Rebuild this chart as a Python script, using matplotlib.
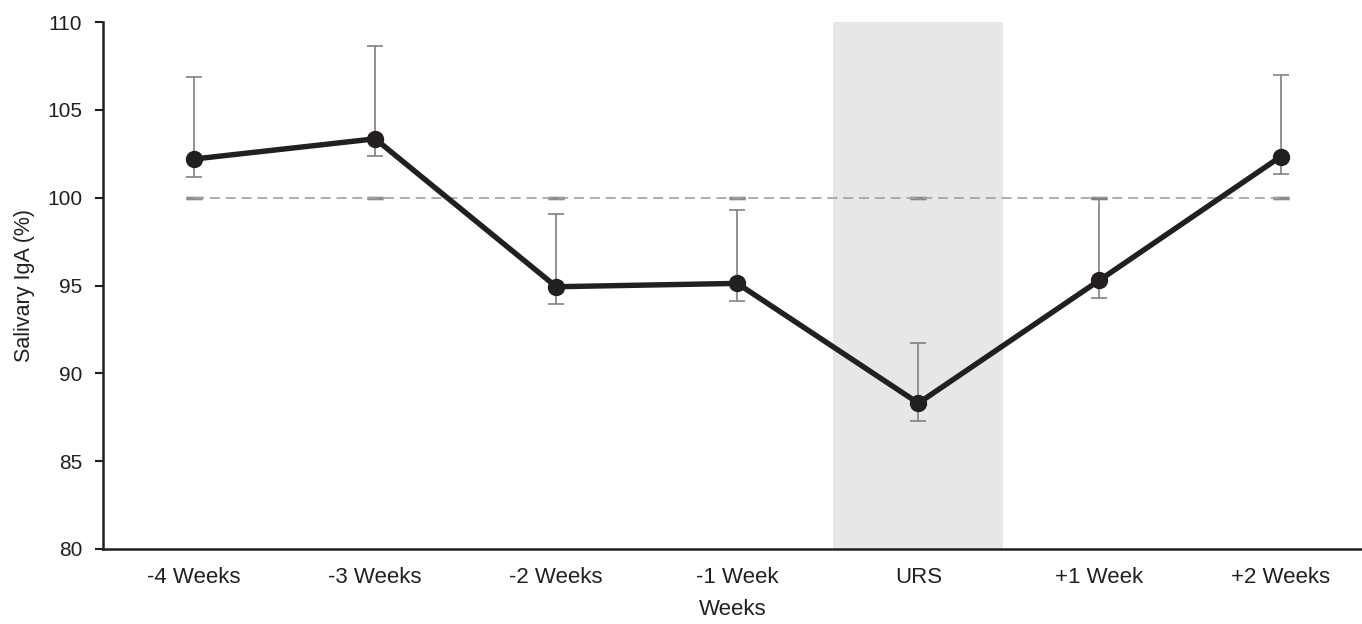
import numpy as np
import matplotlib.pyplot as plt

plt.rcParams['font.family'] = ['Liberation Sans', 'DejaVu Sans']

# Salivary IgA relative to baseline, per week around the URS episode
weeks = ['-4 Weeks', '-3 Weeks', '-2 Weeks', '-1 Week', 'URS', '+1 Week', '+2 Weeks']
siga = [102.2, 103.35, 94.93, 95.12, 88.3, 95.3, 102.33]
err_up = [4.66, 5.26, 4.14, 4.18, 3.4, 4.6, 4.67]
err_low = [1.0, 1.0, 1.0, 1.0, 1.0, 1.0, 1.0]
baseline = [100, 100, 100, 100, 100, 100, 100]

ink = '#231f20'
grey = '#808080'

fig = plt.figure(figsize=(13.62, 6.24), dpi=100)
ax = fig.add_axes([103 / 1362, 1 - 549 / 624, 1 - 103 / 1362, (549 - 22) / 624])

x = np.arange(len(weeks))
urs = weeks.index('URS')

# shaded URS week
ax.axvspan(urs - 0.47, urs + 0.47, color='#e6e7e8', zorder=0, lw=0)

# baseline reference (100 %)
ax.errorbar(x, baseline, yerr=[[0] * len(x), [0] * len(x)], color='#a0a0a0',
            ls=(0, (6, 3.5)), lw=1.2, ecolor='#8c8c8c', elinewidth=1.1,
            capsize=6, capthick=2.4, zorder=1)

# error bars and mean line
ax.errorbar(x, siga, yerr=[err_low, err_up], fmt='none', ecolor=grey,
            elinewidth=1.2, capsize=6, capthick=1.2, zorder=2)
ax.plot(x, siga, color=ink, lw=3.9, marker='o', ms=11.5, zorder=3)

ax.set_xlim(-0.503, 6.45)
ax.set_ylim(80, 110)
ax.set_yticks(range(80, 111, 5))
ax.set_xticks(x)
ax.set_xticklabels(weeks)

for side in ('top', 'right'):
    ax.spines[side].set_visible(False)
for side in ('left', 'bottom'):
    ax.spines[side].set_linewidth(1.8)
    ax.spines[side].set_color(ink)

ax.tick_params(axis='y', direction='out', length=6, width=1.5, color=ink,
               labelsize=15, labelcolor=ink, pad=9)
ax.tick_params(axis='x', length=0, labelsize=16, labelcolor=ink, pad=13)

ax.set_ylabel('Salivary IgA (%)', fontsize=15.5, color=ink, labelpad=9)
ax.set_xlabel('Weeks', fontsize=16, color=ink, labelpad=8)

fig.savefig('out.png', dpi=100)
